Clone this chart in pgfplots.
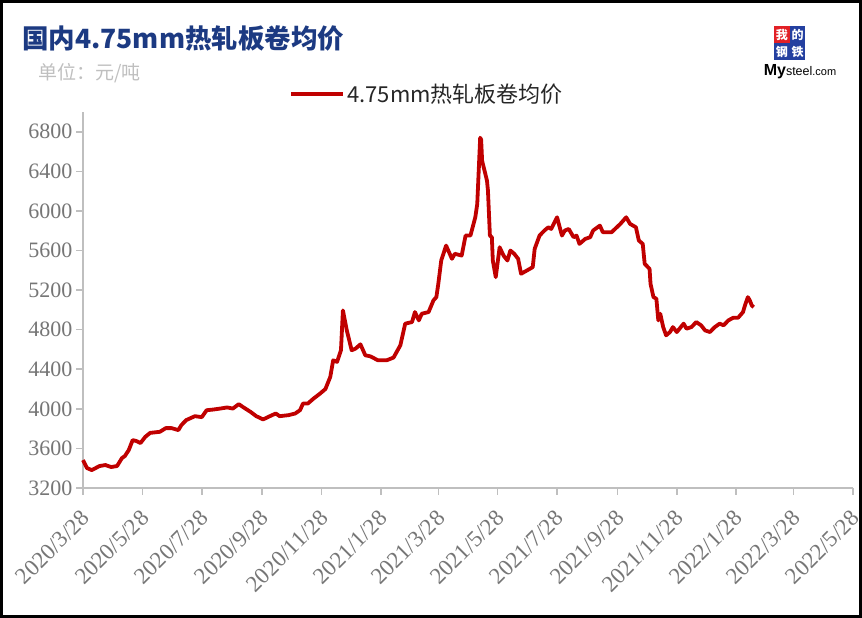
\documentclass[border=0pt]{standalone}
\usepackage{fontspec}
\setmainfont{Liberation Serif}
\newfontfamily\cjk{Noto Sans CJK SC}
\newfontfamily\arialf{Liberation Sans}
\usepackage{pgfplots}
\pgfplotsset{compat=1.18}

\definecolor{linered}{RGB}{192,0,0}
\definecolor{axgray}{RGB}{191,191,191}
\definecolor{labgray}{RGB}{118,118,118}
\definecolor{titleblue}{RGB}{28,58,130}
\definecolor{logored}{RGB}{226,32,38}
\definecolor{logoblue}{RGB}{36,64,160}

\begin{document}
\begin{tikzpicture}[x=1pt,y=1pt]
\useasboundingbox (0,0) rectangle (862,618);
\fill[white] (0,0) rectangle (862,618);

% title block
\node[anchor=base west, inner sep=0pt, text=titleblue] at (22,569)
  {\cjk\bfseries\fontsize{26.5}{30}\selectfont 国内4.75mm热轧板卷均价};
\node[anchor=base west, inner sep=0pt, text=axgray] at (38,538)
  {\cjk\fontsize{19}{22}\selectfont 单位：元/吨};

% logo
\fill[logored]  (774,592) rectangle (789.5,575);
\fill[logoblue] (790,592) rectangle (805,575);
\fill[logoblue] (774,574.5) rectangle (789.5,558);
\fill[logoblue] (790,574.5) rectangle (805,558);
\node[text=white, inner sep=0pt] at (781.8,583.5) {\cjk\bfseries\fontsize{12}{12}\selectfont 我};
\node[text=white, inner sep=0pt] at (797.5,583.5) {\cjk\bfseries\fontsize{12}{12}\selectfont 的};
\node[text=white, inner sep=0pt] at (781.8,566.2) {\cjk\bfseries\fontsize{12}{12}\selectfont 钢};
\node[text=white, inner sep=0pt] at (797.5,566.2) {\cjk\bfseries\fontsize{12}{12}\selectfont 铁};
\node[anchor=base, inner sep=0pt] at (800,542)
  {\arialf{\bfseries\fontsize{16}{16}\selectfont My}{\fontsize{12.5}{13}\selectfont steel}{\fontsize{11}{12}\selectfont .com}};

\begin{axis}[
  at={(83pt,130pt)}, anchor=south west,
  scale only axis, width=770pt, height=376pt,
  xmin=0, xmax=791, ymin=3200, ymax=7000,
  axis x line=bottom, axis y line=left,
  axis line style={-, draw=axgray},
  x axis line style={line width=2.2pt},
  y axis line style={line width=1.6pt},
  tick align=outside, major tick length=7pt,
  tick style={draw=axgray, line width=1.6pt},
  xtick={0,61,122,184,245,306,365,426,487,549,610,671,730,791},
  xticklabels={2020/3/28,2020/5/28,2020/7/28,2020/9/28,2020/11/28,2021/1/28,2021/3/28,2021/5/28,2021/7/28,2021/9/28,2021/11/28,2022/1/28,2022/3/28,2022/5/28},
  ytick={3200,3600,4000,4400,4800,5200,5600,6000,6400,6800},
  /pgf/number format/assume math mode=true,
  /pgf/number format/1000 sep={},
  y tick label style={font=\fontsize{22}{24}\selectfont, text=labgray},
  x tick label style={font=\fontsize{23}{24}\selectfont, text=labgray, xshift=5pt, yshift=-17pt, rotate=45, anchor=east},
  legend style={at={(0.447,1)}, anchor=south, yshift=4pt, draw=none, fill=none,
    font=\cjk\fontsize{22}{24}\selectfont, text=black!85},
  legend image code/.code={\draw[#1] (0pt,0pt) -- (52pt,0pt);},
  clip=false,
]
\addplot[linered, line width=3.8pt, line join=round] coordinates {
(0,3482)(4,3402)(9,3381)(17,3422)(23,3432)(29,3412)(35,3422)(40,3502)(43,3523)(47,3583)
(51,3684)(55,3674)(59,3654)(64,3717)(69,3757)(79,3768)(85,3805)(91,3805)(98,3785)(101,3835)
(106,3886)(115,3926)(122,3916)(127,3986)(134,3993)(141,4003)(148,4014)(154,4003)(160,4047)(165,4014)
(172,3970)(178,3926)(185,3893)(192,3926)(198,3953)(202,3926)(211,3936)(218,3953)(223,3987)(226,4054)
(231,4054)(237,4105)(243,4150)(249,4200)(254,4322)(257,4491)(261,4474)(265,4592)(267,4995)(271,4793)
(276,4592)(280,4609)(285,4652)(290,4541)(295,4531)(303,4491)(312,4491)(319,4518)(326,4642)(331,4861)
(338,4877)(341,4978)(345,4894)(348,4961)(355,4978)(360,5096)(363,5129)(365,5264)(368,5499)(373,5650)
(379,5516)(382,5567)(389,5549)(393,5751)(398,5751)(403,5936)(405,6070)(408,6740)(409,6720)(410,6507)
(415,6306)(416,6205)(418,5751)(420,5734)(421,5499)(424,5331)(428,5633)(432,5549)(436,5499)(439,5600)
(443,5567)(447,5516)(450,5365)(456,5398)(459,5415)(462,5432)(464,5617)(469,5751)(474,5802)(478,5835)
(481,5818)(487,5936)(492,5751)(495,5802)(499,5818)(504,5734)(507,5751)(510,5667)(516,5718)(521,5734)
(524,5802)(531,5852)(534,5785)(543,5785)(552,5869)(558,5936)(562,5869)(568,5835)(571,5701)(575,5667)
(577,5466)(582,5415)(583,5264)(586,5129)(589,5113)(591,4894)(593,4961)(596,4826)(599,4743)(603,4776)
(606,4826)(610,4776)(617,4861)(620,4810)(625,4826)(630,4877)(635,4844)(639,4793)(644,4776)(649,4826)
(654,4861)(658,4844)(663,4894)(668,4921)(673,4921)(678,4978)(680,5045)(683,5129)(685,5096)(687,5045)
(689,5028)
};
\addlegendentry{4.75mm热轧板卷均价}
\end{axis}

\draw[black, line width=3pt] (1.5,1.5) rectangle (860.5,616.5);
\end{tikzpicture}
\end{document}
